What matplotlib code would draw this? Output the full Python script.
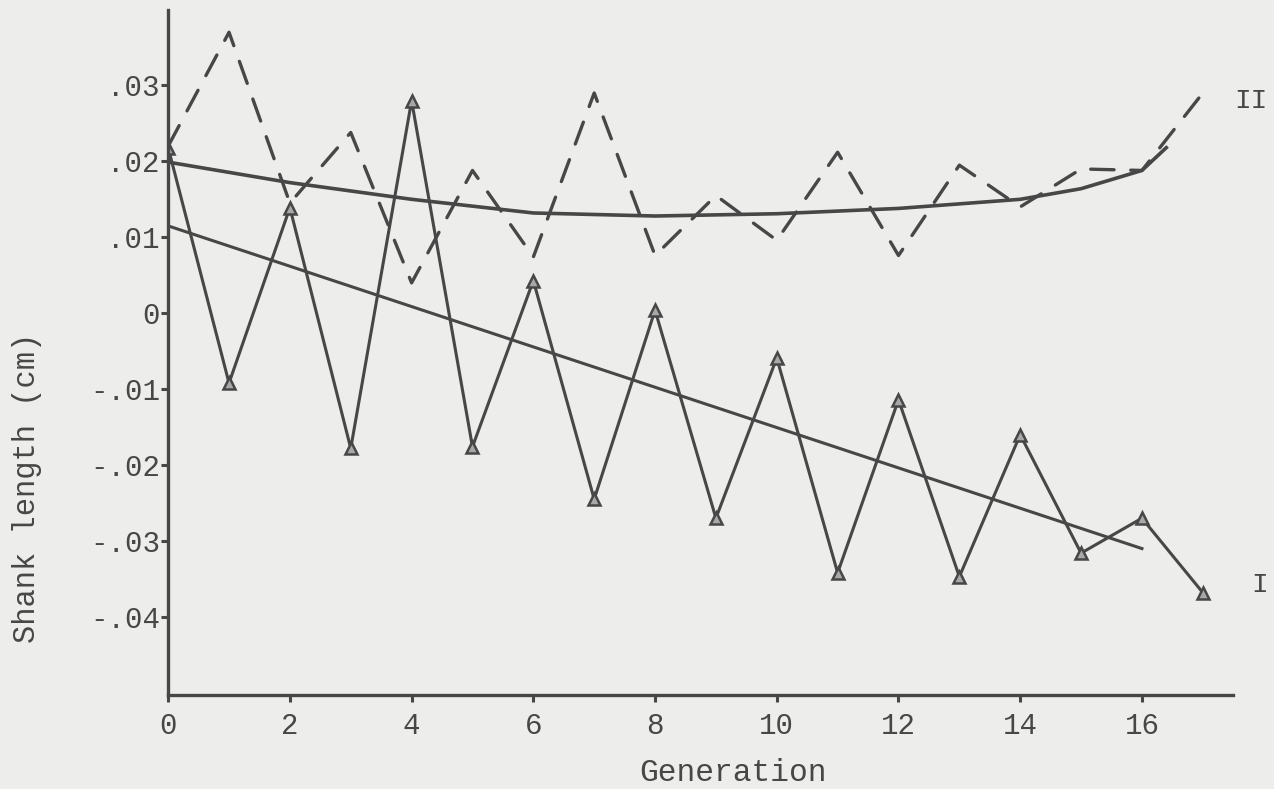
import matplotlib.pyplot as plt

generation = list(range(18))
line_i = [0.0218, -0.0092, 0.0139, -0.0178, 0.0280, -0.0176, 0.0043, -0.0245, 0.0004,
          -0.0270, -0.0059, -0.0342, -0.0114, -0.0347, -0.0160, -0.0316, -0.0270, -0.0368]
line_ii = [0.0220, 0.0370, 0.0145, 0.0238, 0.0040, 0.0188, 0.0074, 0.0290, 0.0076,
           0.0155, 0.0096, 0.0212, 0.0076, 0.0195, 0.0140, 0.0190, 0.0188, 0.0290]

# fitted trends
fit_i_x = [0, 16]
fit_i_y = [0.0115, -0.0310]
fit_ii_x = [0, 2, 4, 6, 8, 10, 12, 14, 15, 16, 16.4]
fit_ii_y = [0.0199, 0.0172, 0.0150, 0.0132, 0.0128, 0.0131, 0.0138, 0.0150, 0.0164, 0.0188, 0.0218]

yticks = [0.03, 0.02, 0.01, 0, -0.01, -0.02, -0.03, -0.04]
ytick_labels = ['.03', '.02', '.01', '0', '-.01', '-.02', '-.03', '-.04']
xticks = [0, 2, 4, 6, 8, 10, 12, 14, 16]

ink = '#474747'
paper = '#ededeb'
plt.rcParams['font.family'] = ['Liberation Mono', 'DejaVu Sans Mono']

fig = plt.figure(figsize=(12.74, 7.89), dpi=100, facecolor=paper)
ax = fig.add_axes([0.132, 0.119, 0.836, 0.868])
ax.set_facecolor(paper)

ax.plot(generation, line_ii, color=ink, lw=2.4, linestyle=(0, (7, 5)), dash_capstyle='round')
ax.plot(fit_ii_x, fit_ii_y, color=ink, lw=2.6)
ax.plot(fit_i_x, fit_i_y, color=ink, lw=2.2)
ax.plot(generation, line_i, color=ink, lw=2.2, marker='^', markersize=8,
        markerfacecolor='#a8a8a8', markeredgecolor=ink, markeredgewidth=1.8)

ax.text(17.93, -0.0358, 'I', color=ink, fontsize=20, va='center', ha='center', clip_on=False)
ax.text(17.52, 0.0280, 'II', color=ink, fontsize=20, va='center', ha='left', clip_on=False)

ax.set_xlim(0, 17.5)
ax.set_ylim(-0.0503, 0.0399)
ax.set_xticks(xticks)
ax.set_yticks(yticks)
ax.set_yticklabels(ytick_labels)
ax.spines['top'].set_visible(False)
ax.spines['right'].set_visible(False)
for s in ['left', 'bottom']:
    ax.spines[s].set_linewidth(2.4)
    ax.spines[s].set_color(ink)
ax.tick_params(direction='out', length=5, width=2.2, color=ink, labelcolor=ink, labelsize=21)
ax.tick_params(axis='y', pad=1)
ax.tick_params(axis='x', pad=7)

ax.set_xlabel('Generation', fontsize=22.5, color=ink)
ax.set_ylabel('Shank length (cm)', fontsize=22, color=ink)
ax.xaxis.set_label_coords(0.530, -0.092)
ax.yaxis.set_label_coords(-0.118, 0.302)

fig.savefig('out.png', dpi=100, facecolor=paper)
